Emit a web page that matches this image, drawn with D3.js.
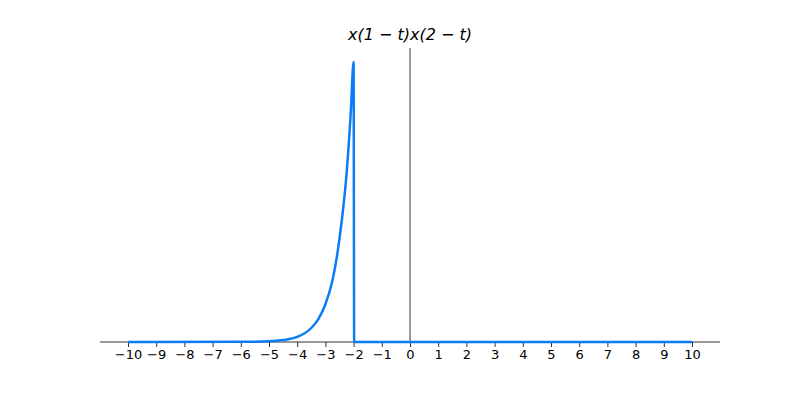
<!DOCTYPE html>
<html>
<head>
<meta charset="utf-8">
<script src="https://cdn.jsdelivr.net/npm/d3@7"></script>
<style>
  body { margin: 0; background: #fff; }
  text { font-family: "DejaVu Sans", sans-serif; }
</style>
</head>
<body>
<svg id="chart" width="800" height="400"></svg>
<script>
// values (height relative to the peak)
const tValues = [-10, -6, -5, -4.5, -4, -3.5, -3.25, -3, -2.75, -2.6, -2.5, -2.4, -2.25, -2.1, -2, -1.98, 10];
const yValues = [0, 0.0005, 0.0025, 0.007, 0.018, 0.05, 0.082, 0.135, 0.22, 0.30, 0.37, 0.45, 0.6, 0.82, 1, 0, 0];
const tickValues = d3.range(-10, 11);
const titleText = "x(1 − t)x(2 − t)";

const svg = d3.select("#chart");
const x = d3.scaleLinear().domain([-10, 10]).range([128, 692]);
const y = d3.scaleLinear().domain([0, 1]).range([342, 62]);

// horizontal axis spine
svg.append("line")
    .attr("x1", 100).attr("x2", 720)
    .attr("y1", y(0)).attr("y2", y(0))
    .attr("stroke", "#000").attr("stroke-width", 0.8);

// vertical axis at t=0
svg.append("line")
    .attr("x1", x(0)).attr("x2", x(0))
    .attr("y1", 48).attr("y2", y(0))
    .attr("stroke", "#000").attr("stroke-width", 0.8);

const xAxis = d3.axisBottom(x)
    .tickValues(tickValues)
    .tickSize(5)
    .tickPadding(3)
    .tickFormat(d => d < 0 ? "−" + Math.abs(d) : String(d));

const g = svg.append("g")
    .attr("transform", `translate(0,${y(0)})`)
    .call(xAxis);
g.select(".domain").remove();
g.selectAll(".tick line").attr("stroke-width", 0.8);
g.selectAll("text").style("font-size", "13px").style("font-family", "DejaVu Sans, sans-serif");

const pts = tValues.map((t, i) => [t, yValues[i]]);
const line = d3.line()
    .x(d => x(d[0]))
    .y(d => y(d[1]))
    .curve(d3.curveMonotoneX);

svg.append("path")
    .datum(pts)
    .attr("d", line)
    .attr("fill", "none")
    .attr("stroke", "#0a7cf7")
    .attr("stroke-width", 2.5);

svg.append("text")
    .attr("x", 410).attr("y", 40)
    .attr("text-anchor", "middle")
    .style("font-size", "16px")
    .style("font-style", "italic")
    .text(titleText);
</script>
</body>
</html>
